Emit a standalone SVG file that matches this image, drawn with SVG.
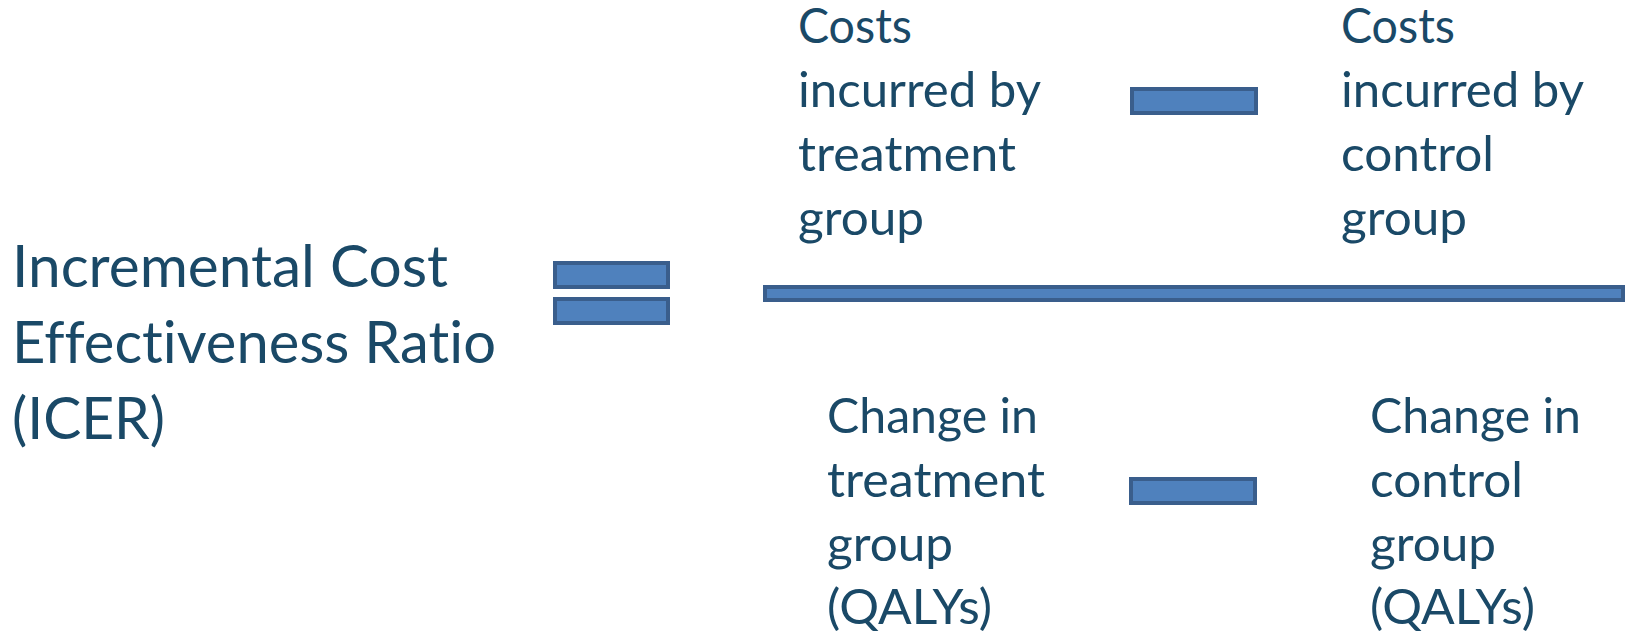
<svg xmlns="http://www.w3.org/2000/svg" width="1626" height="634" viewBox="0 0 1626 634">
  <style>
    .label { font-family: Lato, "Open Sans", "Liberation Sans", sans-serif; fill: #1a4967; font-variant-ligatures: none; font-feature-settings: "liga" 0, "clig" 0; }
    .big { font-size: 58px; }
    .small { font-size: 48px; }
    .op { fill: #4f81bd; stroke: #3a5e8c; stroke-width: 4; }
  </style>
  <rect width="1626" height="634" fill="#ffffff"/>

  <!-- left-hand side of the equation -->
  <g id="icer-label" class="label big">
    <text x="12" y="287" textLength="436" lengthAdjust="spacingAndGlyphs">Incremental Cost</text>
    <text x="12" y="363" textLength="484" lengthAdjust="spacingAndGlyphs">Effectiveness Ratio</text>
    <text x="12" y="439" textLength="153" lengthAdjust="spacingAndGlyphs">(ICER)</text>
  </g>

  <!-- equals sign -->
  <g id="equals-sign">
    <rect class="op" x="555" y="263" width="113" height="24"/>
    <rect class="op" x="555" y="299" width="113" height="24"/>
  </g>

  <!-- numerator -->
  <g id="costs-treatment" class="label small">
    <text x="798" y="43" textLength="114" lengthAdjust="spacingAndGlyphs">Costs</text>
    <text x="798" y="107" textLength="243" lengthAdjust="spacingAndGlyphs">incurred by</text>
    <text x="798" y="171" textLength="218" lengthAdjust="spacingAndGlyphs">treatment</text>
    <text x="798" y="235" textLength="126" lengthAdjust="spacingAndGlyphs">group</text>
  </g>

  <g id="costs-minus">
    <rect class="op" x="1132" y="89" width="124" height="24"/>
  </g>

  <g id="costs-control" class="label small">
    <text x="1341" y="43" textLength="114" lengthAdjust="spacingAndGlyphs">Costs</text>
    <text x="1341" y="107" textLength="243" lengthAdjust="spacingAndGlyphs">incurred by</text>
    <text x="1341" y="171" textLength="153" lengthAdjust="spacingAndGlyphs">control</text>
    <text x="1341" y="235" textLength="126" lengthAdjust="spacingAndGlyphs">group</text>
  </g>

  <!-- fraction bar -->
  <g id="fraction-bar">
    <rect class="op" x="765" y="287" width="858" height="13"/>
  </g>

  <!-- denominator -->
  <g id="qalys-treatment" class="label small">
    <text x="827" y="433" textLength="211" lengthAdjust="spacingAndGlyphs">Change in</text>
    <text x="827" y="497" textLength="218" lengthAdjust="spacingAndGlyphs">treatment</text>
    <text x="827" y="561" textLength="126" lengthAdjust="spacingAndGlyphs">group</text>
    <text x="827" y="624" textLength="165" lengthAdjust="spacingAndGlyphs">(QALYs)</text>
  </g>

  <g id="qalys-minus">
    <rect class="op" x="1131" y="479" width="124" height="24"/>
  </g>

  <g id="qalys-control" class="label small">
    <text x="1370" y="433" textLength="211" lengthAdjust="spacingAndGlyphs">Change in</text>
    <text x="1370" y="497" textLength="153" lengthAdjust="spacingAndGlyphs">control</text>
    <text x="1370" y="561" textLength="126" lengthAdjust="spacingAndGlyphs">group</text>
    <text x="1370" y="624" textLength="165" lengthAdjust="spacingAndGlyphs">(QALYs)</text>
  </g>
</svg>
